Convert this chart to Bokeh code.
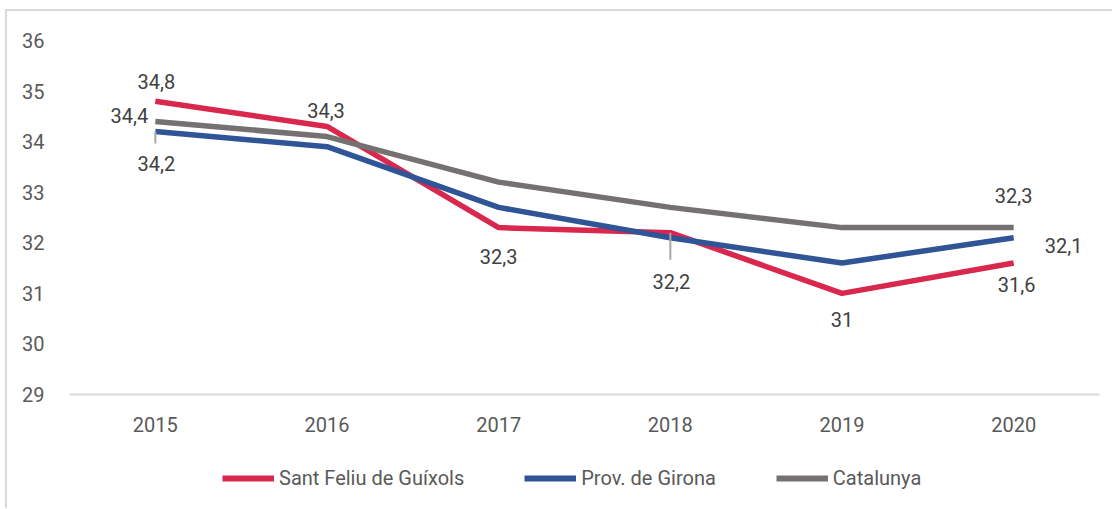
from bokeh.plotting import figure
from bokeh.layouts import column
from bokeh.models import ColumnDataSource, FactorRange, Range1d, Legend, LegendItem
from bokeh.core.properties import value
from bokeh.embed import file_html
from bokeh.resources import INLINE

years = ["2015", "2016", "2017", "2018", "2019", "2020"]
sant_feliu = [34.8, 34.3, 32.3, 32.2, 31.0, 31.6]
girona = [34.2, 33.9, 32.7, 32.1, 31.6, 32.1]
catalunya = [34.4, 34.1, 33.2, 32.7, 32.3, 32.3]
series_names = ["Sant Feliu de Guíxols", "Prov. de Girona", "Catalunya"]
y_ticks = [29, 30, 31, 32, 33, 34, 35, 36]

colors = ["#D9274D", "#2F5597", "#767171"]
FONT = "Roboto"
Y0, Y1 = 29, 36
FRAME_W, FRAME_H = 1028, 352
BORDER = "2px solid #D9D9D9"

p = figure(x_range=FactorRange(*years), y_range=Range1d(Y0, Y1),
           frame_width=FRAME_W, frame_height=FRAME_H,
           min_border_left=62, min_border_right=15, min_border_top=29, min_border_bottom=50,
           output_backend="svg", toolbar_location=None)
p.styles = {"margin-left": "5px", "margin-top": "9px",
            "border-left": BORDER, "border-top": BORDER}
p.outline_line_color = None
p.background_fill_color = "white"
p.border_fill_color = "white"
p.xgrid.grid_line_color = None
p.ygrid.grid_line_color = None

p.yaxis.ticker = y_ticks
p.yaxis.axis_line_color = None
p.yaxis.major_tick_line_color = None
p.yaxis.minor_tick_line_color = None
p.yaxis.major_label_standoff = 19
p.xaxis.axis_line_color = "#D9D9D9"
p.xaxis.axis_line_width = 2
p.xaxis.major_tick_line_color = None
p.xaxis.minor_tick_line_color = None
p.xaxis.major_label_standoff = 16
for ax in (p.xaxis, p.yaxis):
    ax.major_label_text_font = FONT
    ax.major_label_text_font_size = "20px"
    ax.major_label_text_color = "#595959"

data = [sant_feliu, girona, catalunya]
for vals, col in zip(data, colors):
    p.line(x=years, y=vals, line_color=col, line_width=5.5, line_join="round")

# leader lines (series index, year index, length px)
px_per_unit = FRAME_H / (Y1 - Y0)
leaders = [(1, 0, 12), (0, 3, 27)]
lx, ly0, ly1 = [], [], []
for si, yi, ln in leaders:
    v = data[si][yi]
    lx.append(years[yi]); ly0.append(v); ly1.append(v - ln / px_per_unit)
p.segment(x0=lx, y0=ly0, x1=lx, y1=ly1, line_color="#A6A6A6", line_width=2)

# data labels: (series index, year index, dx, dy)
labels = [(0, 0, 1, -20), (2, 0, -26, -6), (1, 0, 1, 32), (0, 1, -1, -16),
          (0, 2, 0, 29), (0, 3, 1, 49), (0, 4, 0, 26), (0, 5, 3, 21),
          (1, 5, 50, 8), (2, 5, 0, -32)]
tx, ty, tt, dxs, dys = [], [], [], [], []
for si, yi, dx, dy in labels:
    v = data[si][yi]
    tx.append(years[yi]); ty.append(v)
    tt.append(f"{v:g}".replace(".", ","))
    dxs.append(dx); dys.append(dy)
src = ColumnDataSource(dict(x=tx, y=ty, t=tt, dx=dxs, dy=dys))
p.text(x="x", y="y", text="t", x_offset="dx", y_offset="dy", source=src,
       text_font=value(FONT), text_font_size="20px", text_color="#404040",
       text_align="center", text_baseline="middle")

# legend strip below the chart (its frame is aligned with the chart frame);
# the series are drawn again here outside the visible y-range, only to key the legend
lg = figure(width=1105, height=66, x_range=FactorRange(*years), y_range=Range1d(0, 1),
            x_axis_type=None, y_axis_type=None, min_border=0,
            output_backend="svg", toolbar_location=None)
lg.styles = {"margin-left": "5px", "border-left": BORDER}
lg.outline_line_color = None
lg.xgrid.grid_line_color = None
lg.ygrid.grid_line_color = None
leg_renderers = [lg.line(x=years, y=vals, line_color=c, line_width=6)
                 for vals, c in zip(data, colors)]
legend = Legend(items=[LegendItem(label=n, renderers=[r]) for n, r in zip(series_names, leg_renderers)],
                orientation="horizontal", location=(153, 18),
                glyph_width=52, glyph_height=20, label_standoff=5, spacing=60,
                padding=0, margin=0, border_line_color=None, background_fill_alpha=0,
                label_text_font=FONT, label_text_font_size="20px", label_text_color="#595959")
lg.add_layout(legend, "center")

layout = column(p, lg, spacing=0)
open("out.html", "w").write(file_html(layout, INLINE))
